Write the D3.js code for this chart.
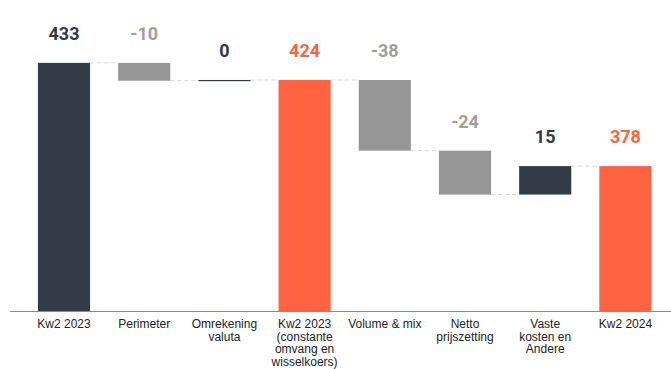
<!DOCTYPE html>
<html>
<head>
<meta charset="utf-8">
<script src="https://cdn.jsdelivr.net/npm/d3@7"></script>
<style>
  html, body { margin: 0; padding: 0; background: #fff; }
  svg { display: block; font-family: Roboto, "Noto Sans", sans-serif; }
</style>
</head>
<body>
<svg id="chart" width="671" height="369"></svg>
<script>
// Data
const categories = ["Kw2 2023", "Perimeter", "Omrekening\nvaluta", "Kw2 2023\n(constante\nomvang en\nwisselkoers)", "Volume & mix", "Netto\nprijszetting", "Vaste\nkosten en\nAndere", "Kw2 2024"];
const values = [433.4, -9.6, 0.4, 424.2, -38.0, -23.6, 15.3, 377.9];
const kinds = ["total", "delta", "delta", "subtotal", "delta", "delta", "delta", "subtotal"];

const colors = { dark: "#333c46", gray: "#969696", orange: "#ff6340" };
const labelColors = { dark: "#333c46", gray: "#9e9e9e", orange: "#ff6340" };

// compute segments
let running = 0;
const bars = values.map((v, i) => {
  let y0, y1, col;
  if (kinds[i] === "total" || kinds[i] === "subtotal") {
    y0 = 300; y1 = v; running = v;
    col = kinds[i] === "total" ? "dark" : "orange";
  } else {
    y0 = running; y1 = running + v; running = y1;
    col = v >= 0 ? "dark" : "gray";
  }
  return { cat: categories[i], v, y0, y1, end: running, col };
});

const svg = d3.select("#chart");
const x = d3.scaleBand().domain(categories).range([23.9, 665.5]).paddingInner(0.35).paddingOuter(0.175);
const y = d3.scaleLinear().domain([300, 450]).range([311, 32]);

// connectors
const conn = svg.append("g");
bars.slice(0, -1).forEach((b, i) => {
  conn.append("line")
    .attr("x1", x(b.cat) + x.bandwidth())
    .attr("x2", x(categories[i + 1]))
    .attr("y1", y(b.end)).attr("y2", y(b.end))
    .attr("stroke", "#d6d6d6").attr("stroke-width", 1)
    .attr("stroke-dasharray", "4,3");
});

// bars
svg.append("g").selectAll("rect").data(bars).join("rect")
  .attr("x", d => x(d.cat))
  .attr("width", x.bandwidth())
  .attr("y", d => Math.min(y(d.y0), y(d.y1)))
  .attr("height", d => Math.max(1.2, Math.abs(y(d.y0) - y(d.y1))))
  .attr("fill", d => colors[d.col]);

// value labels
svg.append("g").selectAll("text").data(bars).join("text")
  .attr("x", d => x(d.cat) + x.bandwidth() / 2)
  .attr("y", d => Math.min(y(d.y0), y(d.y1)) - 23)
  .attr("text-anchor", "middle")
  .attr("font-size", 18).attr("font-weight", 700)
  .attr("fill", d => labelColors[d.col])
  .text(d => Math.round(d.v));

// axis
const axis = svg.append("g").attr("transform", "translate(0,311)")
  .call(d3.axisBottom(x).tickSize(0).tickFormat(""));
axis.select(".domain").remove();
svg.append("line").attr("x1", 10).attr("x2", 671).attr("y1", 311.5).attr("y2", 311.5)
  .attr("stroke", "#8c8c8c").attr("stroke-width", 1);

axis.selectAll(".tick").each(function(d) {
  const t = d3.select(this).append("text")
    .attr("fill", "#222").attr("font-size", 12).attr("text-anchor", "middle");
  d.split("\n").forEach((line, j) => {
    t.append("tspan").attr("x", 0).attr("y", 17 + j * 12.6).text(line);
  });
});
</script>
</body>
</html>
